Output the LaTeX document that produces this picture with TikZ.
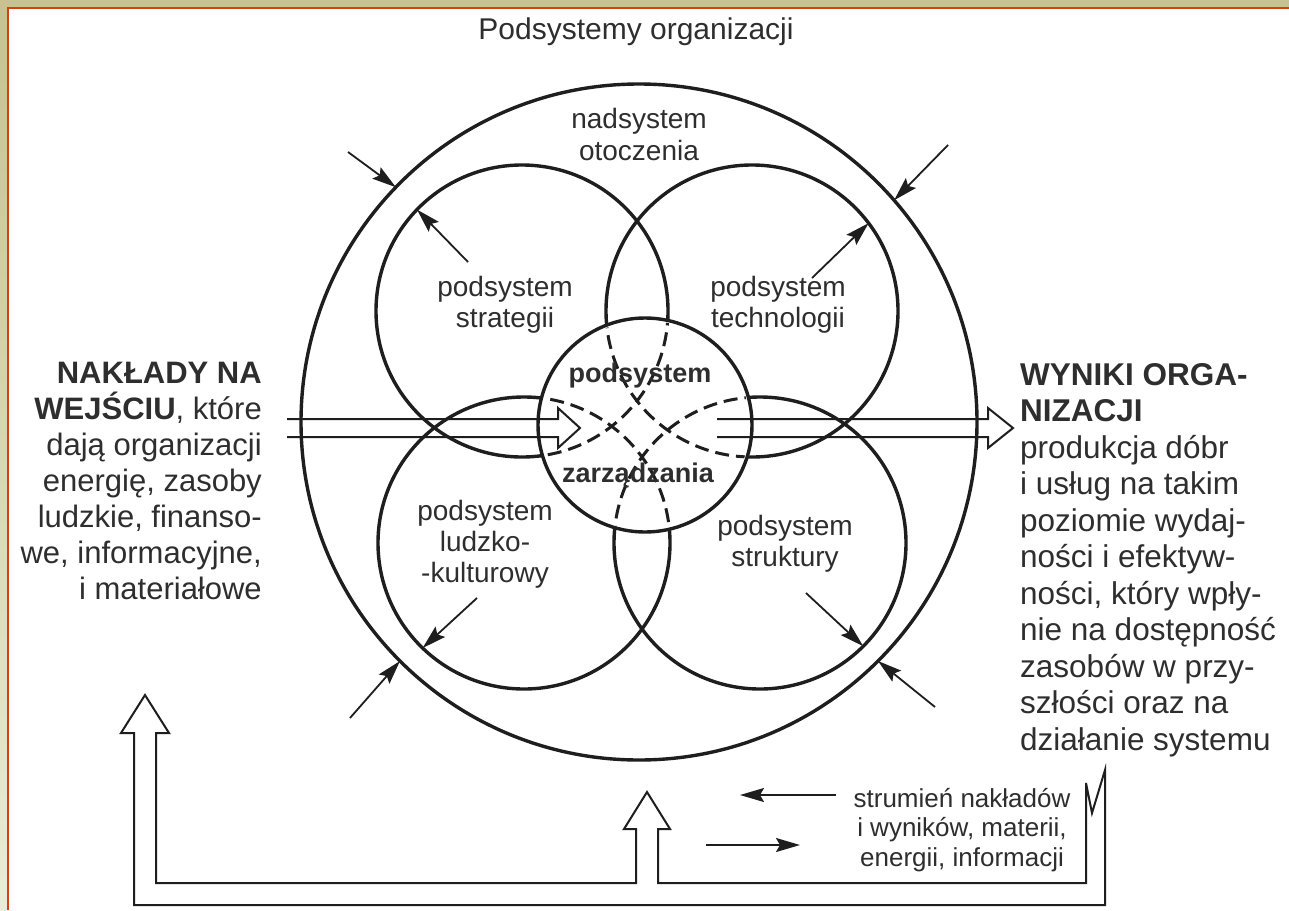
\documentclass[tikz,border=0pt]{standalone}
\usepackage{fontspec}
\setmainfont{Liberation Sans}
\usetikzlibrary{arrows.meta}
\definecolor{ink}{HTML}{1E1E1E}
\definecolor{txt}{HTML}{2E2E2E}
\definecolor{tanbar}{HTML}{C9C18F}
\definecolor{tanlight}{HTML}{ECEADA}
\definecolor{redline}{HTML}{D2420E}
\begin{document}
\begin{tikzpicture}[x=1pt,y=-1pt,
  ring/.style={circle, draw=ink, line width=3.4pt, inner sep=0pt, outer sep=0pt},
  hidden/.style={draw=ink, line width=3pt, dash pattern=on 14pt off 7pt},
  hollow/.style={draw=ink, line width=2pt, line join=miter},
  pointer/.style={draw=ink, line width=1.8pt, -{Stealth[length=24pt,width=14pt,inset=4pt]}},
  lbl/.style={text=txt, font=\fontsize{28}{31}\selectfont, align=center, inner sep=0pt},
  boldlbl/.style={text=txt, font=\fontsize{27}{30}\selectfont\bfseries, inner sep=0pt},
  side/.style={text=txt, font=\fontsize{31}{36}\selectfont, inner sep=0pt},
]
% canvas and frame
\useasboundingbox (0,0) rectangle (1289,910);
\fill[white] (0,0) rectangle (1289,910);
\fill[tanbar] (0,0) rectangle (1289,7);
\shade[top color=tanbar, bottom color=tanlight] (0,7) rectangle (7,910);
\draw[redline, line width=2.2pt] (8,910) -- (8,8) -- (1289,8);

% circles
\node[ring, minimum size=676pt] (env) at (639,422) {};
\node[ring, minimum size=292pt] (strat) at (522,311) {};
\node[ring, minimum size=292pt] (tech) at (752,311) {};
\node[ring, minimum size=292pt] (hum) at (524,543) {};
\node[ring, minimum size=292pt] (struct) at (760,543) {};
\node[ring, fill=white, minimum size=214pt] (mgmt) at (645,425) {};

% hidden parts inside the management subsystem
\begin{scope}
  \clip (645,425) circle[radius=104.5pt];
  \draw[hidden] (522,311) circle[radius=146pt];
  \draw[hidden] (752,311) circle[radius=146pt];
  \draw[hidden] (524,543) circle[radius=146pt];
  \draw[hidden] (760,543) circle[radius=146pt];
\end{scope}

% input / output flow arrows
\draw[hollow] (287,419) -- (558,419) -- (558,408) -- (580,428) -- (558,448) -- (558,437) -- (287,437);
\draw[hollow] (717,419) -- (988,419) -- (988,408) -- (1013,428) -- (988,448) -- (988,437) -- (717,437);

% labels
\node[lbl, font=\fontsize{30}{32}\selectfont] (title) at (636,32) {Podsystemy organizacji};
\node[lbl, font=\fontsize{28}{32}\selectfont] (envlbl) at (639,134) {nadsystem\\otoczenia};
\node[lbl] (stratlbl) at (505,305) {podsystem\\strategii};
\node[lbl] (techlbl) at (778,305) {podsystem\\technologii};
\node[lbl] (humlbl) at (485,544) {podsystem\\ludzko-\\-kulturowy};
\node[lbl] (structlbl) at (785,544) {podsystem\\struktury};
\node[boldlbl] (mgmt1) at (640,376) {podsystem};
\node[boldlbl] (mgmt2) at (638,476) {zarządzania};

\node[side, align=right, anchor=north east] (inputs) at (262,362)
  {\textbf{NAKŁADY NA}\\\textbf{WEJŚCIU}, które\\dają organizacji\\energię, zasoby\\ludzkie, finanso-\\we, informacyjne,\\i materiałowe};
\node[side, align=left, anchor=north west, font=\fontsize{31.5}{36.5}\selectfont] (outputs) at (1020,363)
  {\textbf{WYNIKI ORGA-}\\\textbf{NIZACJI}\\produkcja dóbr\\i usług na takim\\poziomie wydaj-\\ności i efektyw-\\ności, który wpły-\\nie na dostępność\\zasobów w przy-\\szłości oraz na\\działanie systemu};

% environment influence arrows
\coordinate (p1) at (348,152);
\coordinate (p2) at (948,145);
\coordinate (p3) at (468,262);
\coordinate (p4) at (812,278);
\coordinate (p5) at (477,598);
\coordinate (p6) at (350,718);
\coordinate (p7) at (806,593);
\coordinate (p8) at (935,707);
\draw[pointer] (p1) -- (env.136.5);
\draw[pointer] (p2) -- (env.41.5);
\draw[pointer] (p3) -- (strat.136.5);
\draw[pointer] (p4) -- (tech.37.5);
\draw[pointer] (p5) -- (hum.226);
\draw[pointer] (p6) -- (env.225.7);
\draw[pointer] (p7) -- (struct.315.3);
\draw[pointer] (p8) -- (env.315.2);

% feedback pipe
\draw[hollow] (134,905) -- (134,733) -- (121,733) -- (145,695) -- (169,733) -- (156,733)
  -- (156,883) -- (636,883) -- (636,829) -- (624,829) -- (647,792) -- (670,829) -- (658,829)
  -- (658,883) -- (1086,883) -- (1086,783) -- (1092,813) -- (1105,770) -- (1105,905) -- cycle;

% legend
\coordinate (l1) at (836,795);
\coordinate (l2) at (740,795);
\coordinate (l3) at (706,845);
\coordinate (l4) at (800,845);
\draw[pointer] (l1) -- (l2);
\draw[pointer] (l3) -- (l4);
\node[lbl, font=\fontsize{26}{29.5}\selectfont] (legend) at (962,830) {strumień nakładów\\i wyników, materii,\\energii, informacji};
\end{tikzpicture}
\end{document}
